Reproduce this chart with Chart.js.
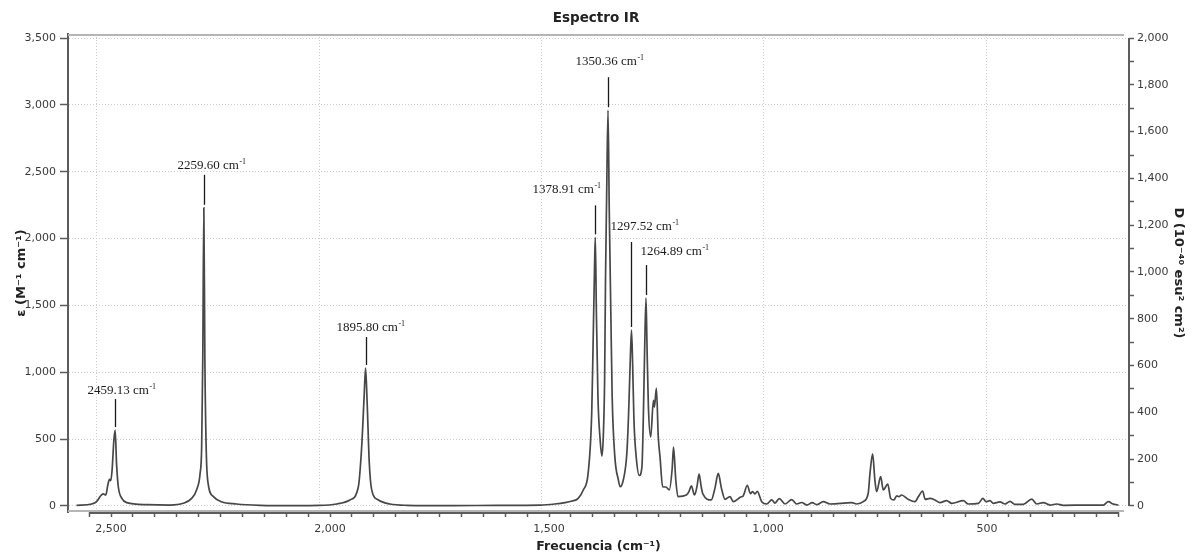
<!DOCTYPE html>
<html>
<head>
<meta charset="utf-8">
<title>Espectro IR</title>
<script src="https://cdn.jsdelivr.net/npm/chart.js@4.4.1/dist/chart.umd.min.js"></script>
<style>
  html, body { margin: 0; padding: 0; background: #fff; }
  #wrap { width: 1192px; height: 559px; }
</style>
</head>
<body>
<div id="wrap"><canvas id="chartIR" width="1192" height="559"></canvas></div>
<script>
// espectro (cm-1 -> epsilon), de mayor a menor frecuencia
const wavenumbers = [
  2546, 2512, 2501, 2492, 2486, 2480, 2476, 2472, 2469, 2466, 2462, 2459.13, 2456, 2452, 2444, 2433,
  2388, 2336, 2306, 2287, 2276, 2268, 2264.5, 2262, 2259.60, 2257.3, 2254, 2250, 2238, 2220, 2186, 2133,
  2050, 2000, 1961, 1931, 1912, 1904.5, 1899, 1895.80, 1892.5, 1887.4, 1882, 1867, 1841, 1803,
  1700, 1600, 1503, 1470, 1447, 1431, 1418, 1406, 1395, 1387, 1384, 1380.5, 1378.91, 1376.5, 1373, 1368,
  1364, 1361, 1358, 1356, 1353.5, 1350.36, 1347.5, 1344, 1341, 1335, 1327, 1323, 1316, 1308, 1304, 1300.5,
  1297.52, 1295, 1292, 1287, 1280, 1274, 1270.7, 1267.8, 1264.89, 1262.6, 1259.5, 1254.3, 1248.2, 1246, 1241.5,
  1237.3, 1233.4, 1227.4, 1220, 1212.5, 1206, 1203, 1198, 1193, 1174, 1168, 1163, 1155.6, 1150, 1145.5,
  1141, 1137, 1118, 1110, 1102.3, 1095, 1087, 1076, 1068.6, 1052, 1046, 1037, 1030, 1025, 1019.7, 1014.5,
  1004.6, 993.4, 982, 974.7, 965, 952, 937, 926, 914.6, 903, 890.8, 881, 866, 851, 802, 791,
  776, 765, 761, 755, 750, 746, 737, 731, 721, 714.5, 707, 701, 696, 690, 675, 660,
  652, 642.5, 637, 626, 615, 603.5, 588.5, 577, 551, 540, 517, 507, 500, 491, 483.6, 468.5,
  457, 446, 435, 416, 397, 386, 371, 356, 341, 326, 273.5, 236, 225, 214, 202
];
const epsilon = [
  5, 15, 32, 75, 90, 82, 150, 199, 189, 269, 493, 568, 319, 144, 57, 25,
  10, 7, 20, 57, 120, 244, 443, 1100, 2230, 1100, 390, 169, 70, 32, 15, 5,
  2, 4, 15, 45, 144, 443, 820, 1032, 800, 321, 120, 45, 15, 5,
  2, 5, 7, 15, 25, 37, 55, 120, 247, 695, 1191, 1817, 2009, 1443, 817, 493,
  374, 518, 942, 1690, 2300, 2960, 2200, 1443, 817, 369, 194, 144, 194, 394, 693, 1067,
  1316, 1067, 643, 369, 228, 294, 693, 1191, 1555, 1191, 742, 516, 790, 740, 881,
  518, 369, 144, 142, 120, 280, 440, 200, 70, 82, 110, 150, 82, 150, 239,
  150, 90, 45, 130, 244, 130, 50, 70, 32, 67, 77, 155, 93, 107, 90, 110,
  32, 15, 45, 22, 55, 15, 48, 15, 26, 7, 25, 10, 32, 15, 25, 15,
  32, 95, 244, 389, 194, 107, 219, 120, 164, 57, 45, 75, 70, 82, 50, 32,
  70, 112, 50, 57, 45, 25, 40, 20, 40, 15, 20, 57, 32, 40, 20, 30,
  15, 35, 12, 12, 52, 15, 25, 7, 15, 5, 7, 7, 32, 15, 7
];

// picos marcados
const peakPositions = [2459.13, 2259.60, 1895.80, 1378.91, 1350.36, 1297.52, 1264.89];

// ejes
const xTickLabels = [2500, 2000, 1500, 1000, 500];
const yTicksLeft = [0, 500, 1000, 1500, 2000, 2500, 3000, 3500];
const yTicksRight = [0, 200, 400, 600, 800, 1000, 1200, 1400, 1600, 1800, 2000];
const xMinorStep = 50;
const xMinorFirst = 200, xMinorLast = 2550;

// D vs epsilon: 2000 en el eje derecho = 3500 en el izquierdo
const rightPerLeft = 2000 / 3500;
const yMin = -45, yMax = 3530;

// posicion del texto respecto a la linea de cada pico (dx, largo linea, separacion)
const peakLabelLayout = [
  { dx: -28, len: 28, rise: 5 },
  { dx: -27, len: 30, rise: 6 },
  { dx: -30, len: 28, rise: 6 },
  { dx: -63, len: 29, rise: 12 },
  { dx: -33, len: 30, rise: 12 },
  { dx: -21, len: 85, rise: 12 },
  { dx: -6,  len: 30, rise: 10 }
];

const AXIS = '#5c5c5c';
const GRID = '#cdcdcd';
const tickFont = { family: 'DejaVu Sans', size: 11 };
const titleFont = { family: 'DejaVu Sans', size: 13, weight: 'bold' };

const frame = {
  id: 'frame',
  beforeDatasetsDraw(chart) {
    const { ctx, chartArea: a, scales } = chart;
    ctx.save();
    ctx.strokeStyle = '#b5b5b5';
    ctx.lineWidth = 2;
    ctx.beginPath();
    ctx.moveTo(a.left, a.top + 1); ctx.lineTo(a.right - 5, a.top + 1);
    ctx.moveTo(a.left, a.bottom - 1); ctx.lineTo(a.right - 5, a.bottom - 1);
    ctx.stroke();

    ctx.strokeStyle = AXIS;
    ctx.beginPath();
    const r = scales.yR;
    ctx.moveTo(r.left, r.getPixelForValue(yTicksRight[yTicksRight.length - 1]));
    ctx.lineTo(r.left, r.getPixelForValue(yTicksRight[0]));
    const t = scales.xTicks;
    ctx.moveTo(t.getPixelForValue(xMinorLast), a.bottom + 1);
    ctx.lineTo(t.getPixelForValue(xMinorFirst), a.bottom + 1);
    ctx.stroke();
    ctx.restore();
  }
};

const peakMarks = {
  id: 'peakMarks',
  afterDatasetsDraw(chart) {
    const { ctx, scales: { x, y } } = chart;
    ctx.save();
    ctx.fillStyle = '#1a1a1a';
    ctx.strokeStyle = '#1a1a1a';
    ctx.lineWidth = 1.3;
    ctx.textAlign = 'left';
    ctx.textBaseline = 'alphabetic';
    peakPositions.forEach((nu, i) => {
      const eps = epsilon[wavenumbers.indexOf(nu)];
      const lay = peakLabelLayout[i];
      const px = Math.round(x.getPixelForValue(nu)) + 0.5;
      const bottom = y.getPixelForValue(eps) - 3;
      const top = bottom - lay.len;
      ctx.beginPath();
      ctx.moveTo(px, top);
      ctx.lineTo(px, bottom);
      ctx.stroke();

      const base = top - lay.rise;
      const main = nu.toFixed(2) + ' cm';
      ctx.font = '13px "Liberation Serif"';
      ctx.fillText(main, px + lay.dx, base);
      const w = ctx.measureText(main).width;
      ctx.font = '8px "Liberation Serif"';
      ctx.fillText('-1', px + lay.dx + w + 0.5, base - 5);
    });
    ctx.restore();
  }
};

new Chart(document.getElementById('chartIR'), {
  type: 'line',
  data: {
    datasets: [{
      data: wavenumbers.map((w, i) => ({ x: w, y: epsilon[i] })),
      borderColor: '#474747',
      borderWidth: 1.7,
      pointRadius: 0,
      cubicInterpolationMode: 'monotone',
      fill: false,
      xAxisID: 'x',
      yAxisID: 'y'
    }]
  },
  options: {
    responsive: false,
    animation: false,
    devicePixelRatio: 1,
    layout: { padding: 0 },
    plugins: {
      legend: { display: false },
      tooltip: { enabled: false },
      title: {
        display: true,
        text: 'Espectro IR',
        color: '#222',
        font: { family: 'DejaVu Sans', size: 13.5, weight: 'bold' },
        padding: { top: 10, bottom: 7.8 }
      }
    },
    scales: {
      x: {
        type: 'linear',
        position: 'bottom',
        reverse: true,
        min: 178.3,
        max: 2565.2,
        weight: 0,
        afterBuildTicks: s => { s.ticks = xTickLabels.map(v => ({ value: v })); },
        afterFit: s => { s.height = 0; },
        ticks: { display: false },
        grid: { color: GRID, lineWidth: 1, drawTicks: false },
        border: { display: false, dash: [1, 2] }
      },
      xTicks: {
        type: 'linear',
        position: 'bottom',
        reverse: true,
        min: 175.8,
        max: 2598.2,
        weight: 1,
        afterBuildTicks: s => {
          const t = [];
          for (let v = xMinorFirst; v <= xMinorLast; v += xMinorStep) t.push({ value: v });
          s.ticks = t;
        },
        afterFit: s => { s.height = 47; },
        ticks: {
          autoSkip: false,
          maxRotation: 0,
          padding: 6,
          color: '#3a3a3a',
          font: tickFont,
          callback: v => xTickLabels.includes(v) ? v.toLocaleString('en-US') : ''
        },
        grid: { drawOnChartArea: false, tickColor: AXIS, tickLength: 5, tickWidth: 1.5 },
        border: { display: false },
        title: {
          display: true,
          text: 'Frecuencia (cm⁻¹)',
          color: '#222',
          font: { family: 'DejaVu Sans', size: 12.5, weight: 'bold' },
          padding: { top: 0, bottom: 5 }
        }
      },
      y: {
        position: 'left',
        min: yMin,
        max: yMax,
        afterBuildTicks: s => { s.ticks = yTicksLeft.map(v => ({ value: v })); },
        afterFit: s => { s.width = 68; },
        ticks: {
          padding: 4,
          color: '#3a3a3a',
          font: tickFont,
          callback: v => v.toLocaleString('en-US')
        },
        grid: { color: GRID, lineWidth: 1, tickColor: AXIS, tickLength: 8, tickWidth: 1.5 },
        border: { display: true, color: AXIS, width: 2, dash: [1, 2] },
        title: {
          display: true,
          text: 'ε (M⁻¹ cm⁻¹)',
          color: '#222',
          font: titleFont,
          padding: { top: 14, bottom: 0 }
        }
      },
      yR: {
        position: 'right',
        min: yMin * rightPerLeft,
        max: yMax * rightPerLeft,
        afterBuildTicks: s => {
          const t = [];
          yTicksRight.forEach((v, i) => {
            t.push({ value: v });
            if (i < yTicksRight.length - 1) t.push({ value: (v + yTicksRight[i + 1]) / 2 });
          });
          s.ticks = t;
        },
        afterFit: s => { s.width = 63; },
        ticks: {
          padding: 3,
          color: '#3a3a3a',
          font: tickFont,
          callback: v => yTicksRight.includes(v) ? v.toLocaleString('en-US') : ''
        },
        grid: { drawOnChartArea: false, tickColor: AXIS, tickLength: 5, tickWidth: 1.5 },
        border: { display: false },
        title: {
          display: true,
          text: 'D (10⁻⁴⁰ esu² cm²)',
          color: '#222',
          font: titleFont,
          padding: { top: 6, bottom: 0 }
        }
      }
    }
  },
  plugins: [frame, peakMarks]
});
</script>
</body>
</html>
